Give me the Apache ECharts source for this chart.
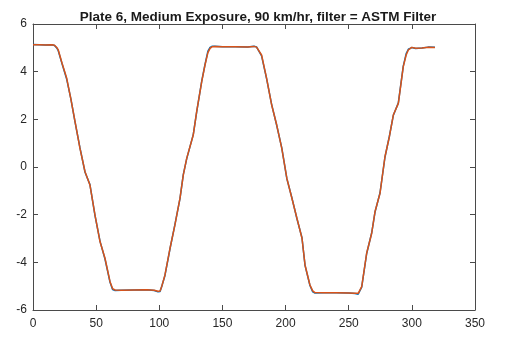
<!DOCTYPE html>
<html>
<head>
<meta charset="utf-8">
<script src="https://cdn.jsdelivr.net/npm/echarts@6/dist/echarts.min.js"></script>
<style>html,body{margin:0;padding:0;background:#fff}#c{width:506px;height:342px}</style>
</head>
<body>
<div id="c"></div>
<script>
const titleText = "Plate 6, Medium Exposure, 90 km/hr, filter = ASTM Filter";
const xTicks = [0, 50, 100, 150, 200, 250, 300, 350];
const yTicks = [-6, -4, -2, 0, 2, 4, 6];
const sampleX = [0,5,10,15,17,19,20,23,26.7,30,33.3,37.2,41.2,45.1,49.1,53.1,57,61,63,65,70,80,90,96,99,100.6,102,104.5,108.5,112.4,116.4,119,121.7,126.9,129.6,133.6,136.2,138.5,140.2,142,144,150,160,170,175,177,178.5,181,185,189,193,197,201,205,209,213,215.4,219.3,221.5,223.3,230,240,250,255,257.5,260.3,264.2,268.2,270.8,274.8,278.7,282.2,285.3,289.3,293.2,295.5,297.2,299.9,303,308,313,318.3];
const blueValues = [5.14,5.13,5.12,5.13,5.10,4.98,4.88,4.33,3.68,2.86,1.88,0.80,-0.22,-0.74,-2.04,-3.12,-3.86,-4.84,-5.14,-5.18,-5.17,-5.16,-5.15,-5.18,-5.24,-5.22,-5.0,-4.55,-3.43,-2.41,-1.33,-0.32,0.34,1.36,2.30,3.60,4.30,4.86,5.02,5.07,5.07,5.05,5.05,5.04,5.07,5.04,4.96,4.66,3.70,2.62,1.74,0.80,-0.49,-1.29,-2.17,-2.97,-4.13,-4.97,-5.24,-5.29,-5.28,-5.28,-5.29,-5.31,-5.34,-5.04,-3.64,-2.76,-1.90,-1.08,0.41,1.29,2.16,2.69,4.23,4.76,4.94,5.01,4.97,4.99,5.03,5.02];
const redValues = [5.13,5.13,5.12,5.13,5.11,5.0,4.91,4.35,3.72,2.85,1.9,0.78,-0.2,-0.76,-2.02,-3.14,-3.83,-4.81,-5.1,-5.16,-5.17,-5.16,-5.15,-5.17,-5.21,-5.2,-5.0,-4.53,-3.41,-2.43,-1.31,-0.34,0.36,1.34,2.32,3.58,4.28,4.8,4.98,5.05,5.06,5.05,5.05,5.04,5.06,5.03,4.95,4.7,3.72,2.6,1.76,0.78,-0.47,-1.31,-2.15,-2.99,-4.11,-4.95,-5.2,-5.27,-5.28,-5.28,-5.29,-5.3,-5.3,-5.02,-3.62,-2.78,-1.88,-1.1,0.43,1.27,2.18,2.67,4.21,4.7,4.91,5.02,4.98,4.99,5.02,5.01];

const blueData = sampleX.map((x, i) => [x, blueValues[i]]);
const redData = sampleX.map((x, i) => [x, redValues[i]]);

const axisColor = '#4a4a4a';
const labelFont = {color: '#262626', fontSize: 12, fontFamily: 'Liberation Sans, Arial, sans-serif'};

const chart = echarts.init(document.getElementById('c'), null, {renderer: 'canvas'});
chart.setOption({
  animation: false,
  backgroundColor: '#fff',
  title: {
    text: titleText,
    left: 253, top: 5, textAlign: 'center',
    textStyle: {fontFamily: 'Liberation Sans, Arial, sans-serif', fontWeight: 'bold', fontSize: 13.5, color: '#1a1a1a'}
  },
  grid: {left: 33, right: 31, top: 24, bottom: 32, containLabel: false},
  xAxis: [
    {type: 'value', position: 'bottom', min: xTicks[0], max: xTicks[xTicks.length-1], interval: 50,
     axisLine: {show: true, onZero: false, lineStyle: {color: axisColor, width: 1}},
     axisTick: {show: true, inside: true, length: 5, lineStyle: {color: axisColor}},
     axisLabel: Object.assign({margin: 8}, labelFont),
     splitLine: {show: false}},
    {type: 'value', position: 'top', min: xTicks[0], max: xTicks[xTicks.length-1], interval: 50,
     axisLine: {show: true, onZero: false, lineStyle: {color: axisColor, width: 1}},
     axisTick: {show: true, inside: true, length: 5, lineStyle: {color: axisColor}},
     axisLabel: {show: false}, splitLine: {show: false}}
  ],
  yAxis: [
    {type: 'value', position: 'left', min: yTicks[0], max: yTicks[yTicks.length-1], interval: 2,
     axisLine: {show: true, onZero: false, lineStyle: {color: axisColor, width: 1}},
     axisTick: {show: true, inside: true, length: 5, lineStyle: {color: axisColor}},
     axisLabel: Object.assign({margin: 6}, labelFont),
     splitLine: {show: false}},
    {type: 'value', position: 'right', min: yTicks[0], max: yTicks[yTicks.length-1], interval: 2,
     axisLine: {show: true, onZero: false, lineStyle: {color: axisColor, width: 1}},
     axisTick: {show: true, inside: true, length: 5, lineStyle: {color: axisColor}},
     axisLabel: {show: false}, splitLine: {show: false}}
  ],
  series: [
    {name: 'raw', type: 'line', data: blueData, showSymbol: false, symbol: 'none',
     lineStyle: {color: '#0072BD', width: 1.5}, z: 2},
    {name: 'filtered', type: 'line', data: redData, showSymbol: false, symbol: 'none',
     lineStyle: {color: '#D95319', width: 1.5}, z: 3}
  ]
});
</script>
</body>
</html>
